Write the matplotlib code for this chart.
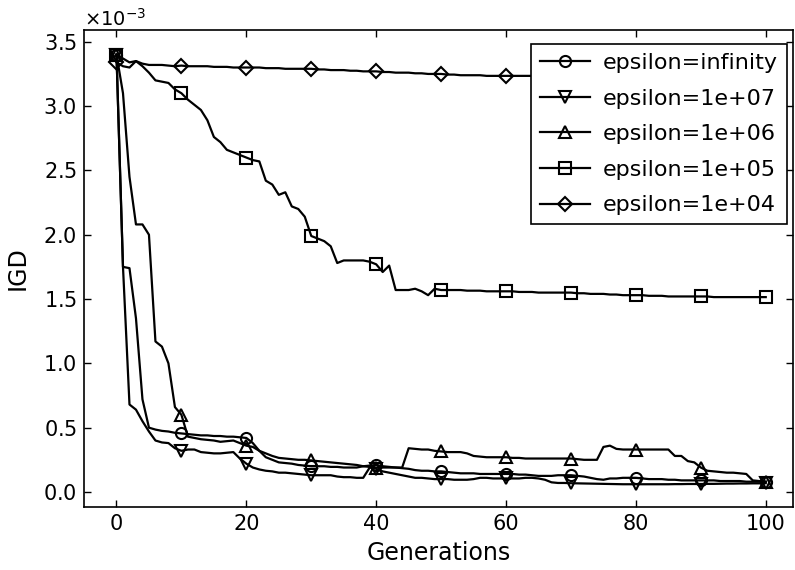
import matplotlib
matplotlib.use("Agg")
import matplotlib.pyplot as plt
from matplotlib.ticker import ScalarFormatter

generations = list(range(101))

# IGD values in units of 1e-3
igd_inf = [3.40, 1.75, 1.74, 1.35, 0.72, 0.50, 0.485, 0.475, 0.47, 0.46, 0.455,
           0.45, 0.445, 0.44, 0.44, 0.435, 0.435, 0.43, 0.43, 0.425, 0.42,
           0.38, 0.32, 0.27, 0.25, 0.23, 0.225, 0.22, 0.21, 0.205, 0.20,
           0.20, 0.20, 0.195, 0.195, 0.19, 0.19, 0.19, 0.20, 0.205, 0.21,
           0.20, 0.195, 0.19, 0.185, 0.18, 0.17, 0.165, 0.165, 0.16, 0.16,
           0.155, 0.15, 0.145, 0.145, 0.145, 0.14, 0.14, 0.14, 0.14, 0.14,
           0.14, 0.135, 0.135, 0.13, 0.125, 0.125, 0.125, 0.13, 0.13, 0.13,
           0.125, 0.12, 0.11, 0.10, 0.095, 0.105, 0.105, 0.11, 0.11, 0.11,
           0.105, 0.10, 0.10, 0.10, 0.095, 0.095, 0.09, 0.09, 0.09, 0.09,
           0.09, 0.09, 0.085, 0.085, 0.085, 0.085, 0.08, 0.08, 0.08, 0.08]

igd_1e7 = [3.40, 1.75, 0.68, 0.64, 0.55, 0.47, 0.40, 0.385, 0.38, 0.34, 0.32,
           0.33, 0.33, 0.31, 0.305, 0.30, 0.30, 0.305, 0.31, 0.26, 0.22,
           0.19, 0.175, 0.165, 0.16, 0.15, 0.15, 0.145, 0.14, 0.135, 0.13,
           0.13, 0.13, 0.13, 0.12, 0.115, 0.115, 0.11, 0.11, 0.19, 0.18,
           0.16, 0.15, 0.14, 0.13, 0.12, 0.11, 0.11, 0.105, 0.10, 0.10,
           0.10, 0.095, 0.095, 0.095, 0.10, 0.11, 0.11, 0.105, 0.105, 0.105,
           0.105, 0.105, 0.11, 0.11, 0.105, 0.095, 0.075, 0.07, 0.07, 0.068,
           0.067, 0.066, 0.065, 0.064, 0.063, 0.062, 0.061, 0.06, 0.06, 0.06,
           0.06, 0.06, 0.06, 0.06, 0.06, 0.061, 0.061, 0.062, 0.062, 0.062,
           0.063, 0.063, 0.064, 0.065, 0.065, 0.066, 0.066, 0.067, 0.067, 0.068]

igd_1e6 = [3.40, 3.10, 2.45, 2.08, 2.08, 2.00, 1.17, 1.13, 1.00, 0.66, 0.60,
           0.43, 0.42, 0.41, 0.405, 0.40, 0.39, 0.395, 0.40, 0.38, 0.36,
           0.35, 0.32, 0.30, 0.28, 0.265, 0.26, 0.255, 0.25, 0.25, 0.245,
           0.24, 0.235, 0.23, 0.225, 0.22, 0.215, 0.21, 0.20, 0.195, 0.19,
           0.19, 0.19, 0.19, 0.19, 0.34, 0.335, 0.33, 0.33, 0.32, 0.315,
           0.31, 0.31, 0.31, 0.30, 0.28, 0.275, 0.27, 0.27, 0.27, 0.27,
           0.265, 0.265, 0.26, 0.26, 0.26, 0.26, 0.26, 0.26, 0.26, 0.26,
           0.255, 0.25, 0.25, 0.25, 0.35, 0.36, 0.335, 0.33, 0.33, 0.33,
           0.33, 0.33, 0.33, 0.33, 0.33, 0.28, 0.28, 0.24, 0.23, 0.19,
           0.165, 0.16, 0.155, 0.15, 0.15, 0.145, 0.14, 0.09, 0.085, 0.08]

igd_1e5 = [3.40, 3.37, 3.34, 3.35, 3.31, 3.26, 3.20, 3.19, 3.18, 3.13, 3.10,
           3.05, 3.01, 2.97, 2.89, 2.76, 2.72, 2.66, 2.64, 2.62, 2.60,
           2.58, 2.57, 2.42, 2.39, 2.31, 2.33, 2.22, 2.20, 2.14, 1.99,
           1.97, 1.95, 1.91, 1.78, 1.80, 1.80, 1.80, 1.80, 1.79, 1.77,
           1.71, 1.76, 1.57, 1.57, 1.57, 1.58, 1.56, 1.53, 1.58, 1.57,
           1.57, 1.57, 1.57, 1.565, 1.565, 1.565, 1.56, 1.56, 1.56, 1.56,
           1.56, 1.555, 1.555, 1.555, 1.55, 1.55, 1.55, 1.55, 1.55, 1.55,
           1.545, 1.545, 1.54, 1.54, 1.54, 1.535, 1.535, 1.53, 1.53, 1.53,
           1.53, 1.525, 1.525, 1.525, 1.52, 1.52, 1.52, 1.52, 1.52, 1.52,
           1.52, 1.515, 1.515, 1.515, 1.515, 1.515, 1.515, 1.515, 1.515, 1.515]

igd_1e4 = [3.34, 3.31, 3.30, 3.35, 3.33, 3.32, 3.32, 3.32, 3.315, 3.31, 3.315,
           3.31, 3.31, 3.31, 3.31, 3.305, 3.305, 3.305, 3.30, 3.30, 3.30,
           3.30, 3.30, 3.295, 3.295, 3.295, 3.29, 3.29, 3.29, 3.29, 3.29,
           3.285, 3.285, 3.28, 3.28, 3.28, 3.275, 3.275, 3.27, 3.27, 3.27,
           3.265, 3.265, 3.26, 3.26, 3.26, 3.255, 3.255, 3.25, 3.25, 3.25,
           3.245, 3.245, 3.24, 3.24, 3.24, 3.24, 3.235, 3.235, 3.235, 3.235,
           3.235, 3.235, 3.235, 3.235, 3.235, 3.235, 3.235, 3.235, 3.235, 3.235,
           3.235, 3.235, 3.235, 3.235, 3.235, 3.235, 3.235, 3.235, 3.235, 3.235,
           3.23, 3.23, 3.225, 3.225, 3.22, 3.22, 3.215, 3.215, 3.21, 3.21,
           3.21, 3.205, 3.205, 3.2, 3.2, 3.2, 3.195, 3.195, 3.19, 3.19]

series = [
    ("epsilon=infinity", igd_inf, "o"),
    ("epsilon=1e+07", igd_1e7, "v"),
    ("epsilon=1e+06", igd_1e6, "^"),
    ("epsilon=1e+05", igd_1e5, "s"),
    ("epsilon=1e+04", igd_1e4, "D"),
]

plt.rcParams["font.family"] = "DejaVu Sans"
fig = plt.figure(figsize=(7.95, 5.7), dpi=100)
ax = fig.add_axes([0.1057, 0.1105, 0.8918, 0.8365])

for label, vals, marker in series:
    ax.plot(generations, [v * 1e-3 for v in vals], color="black", lw=1.6,
            marker=marker, markevery=10, markersize=8 if marker != "D" else 7,
            markerfacecolor="none", markeredgecolor="black", markeredgewidth=1.5,
            label=label)

ax.set_xlim(-5, 104.2)
ax.set_ylim(-0.117e-3, 3.59e-3)
ax.set_xticks([0, 20, 40, 60, 80, 100])
ax.set_yticks([i * 0.5e-3 for i in range(8)])

fmt = ScalarFormatter(useMathText=True)
fmt.set_powerlimits((-2, 2))
ax.yaxis.set_major_formatter(fmt)
ax.yaxis.get_offset_text().set_fontsize(14)

ax.tick_params(direction="in", top=True, right=True, length=5, width=1,
               labelsize=15, pad=5)
for sp in ax.spines.values():
    sp.set_linewidth(1.2)

ax.set_xlabel("Generations", fontsize=17, labelpad=5)
ax.set_ylabel("IGD", fontsize=17, labelpad=10)

leg = ax.legend(loc="upper right", bbox_to_anchor=(0.9915, 0.9706),
                borderaxespad=0, fontsize=16, fancybox=False, framealpha=1,
                edgecolor="black", handlelength=2.25, handletextpad=0.6,
                labelspacing=0.7, borderpad=0.4)
leg.get_frame().set_linewidth(1.2)

plt.savefig("out.png", dpi=100)
plt.close()
